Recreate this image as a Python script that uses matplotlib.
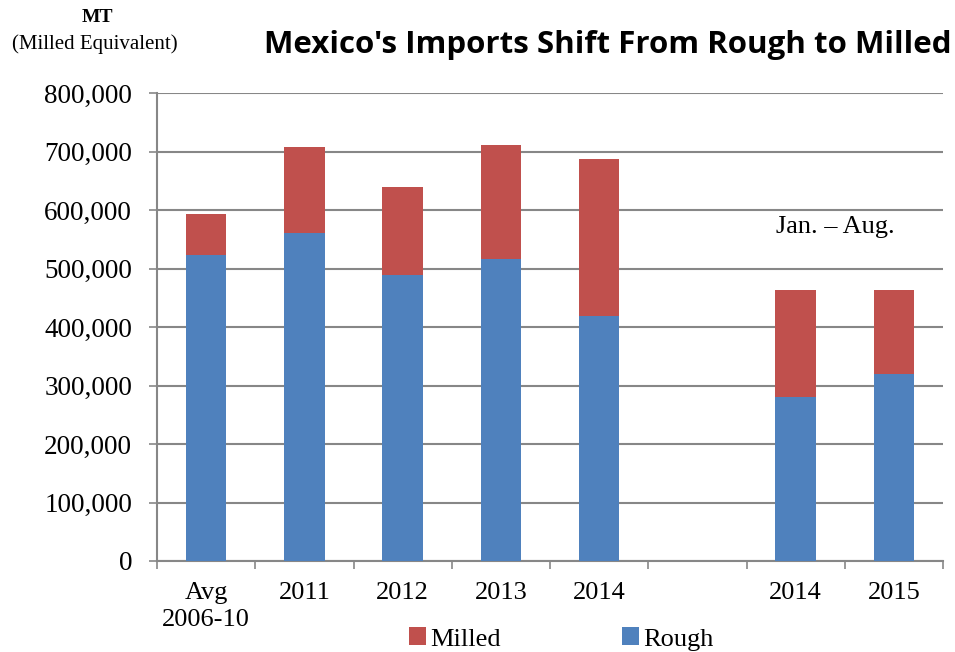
import matplotlib
matplotlib.use("Agg")
import matplotlib.pyplot as plt
import numpy as np
from matplotlib.ticker import FuncFormatter, FixedLocator

categories = ["Avg\n2006-10", "2011", "2012", "2013", "2014", "", "2014", "2015"]
rough = [523000, 560000, 489000, 517000, 419000, 0, 281000, 319000]
milled = [71000, 147000, 151000, 194000, 268000, 0, 183000, 144000]

yticks = [0, 100000, 200000, 300000, 400000, 500000, 600000, 700000, 800000]

BLUE = "#4F81BD"
RED = "#C0504D"
GRID = "#878787"

fig = plt.figure(figsize=(9.55, 6.52), dpi=100)
ax = fig.add_axes([157/955, 1 - 561/652, (943-157)/955, (561-93)/652])

x = np.arange(len(categories))
w = 0.41
ax.bar(x, rough, w, color=BLUE, label="Rough", zorder=3)
ax.bar(x, milled, w, bottom=rough, color=RED, label="Milled", zorder=3)

ax.set_xlim(-0.5, len(categories) - 0.5)
ax.set_ylim(0, 800000)
ax.set_yticks(yticks)
ax.yaxis.set_major_formatter(FuncFormatter(lambda v, p: f"{int(v):,}"))
ax.grid(axis="y", color=GRID, linewidth=1.5, zorder=0)
ax.set_axisbelow(True)

ax.set_xticks(x)
ax.set_xticklabels(categories, fontfamily="Liberation Serif", fontsize=19, linespacing=1.3)
ax.xaxis.set_minor_locator(FixedLocator(np.arange(-0.5, len(categories), 1.0)))
ax.tick_params(axis="x", which="major", length=0, pad=15)
ax.tick_params(axis="x", which="minor", length=6, color=GRID, width=1.2)
ax.tick_params(axis="y", length=6, color=GRID, width=1.2, pad=12)
for lab in ax.get_yticklabels():
    lab.set_fontfamily("Liberation Serif")
    lab.set_fontsize(19.5)

for s in ["top", "right"]:
    ax.spines[s].set_visible(False)
ax.spines["left"].set_color(GRID)
ax.spines["left"].set_linewidth(1.5)
ax.spines["bottom"].set_color(GRID)
ax.spines["bottom"].set_linewidth(1.5)

fig.text(608/955, 1 - 45/652, "Mexico's Imports Shift From Rough to Milled",
         fontfamily="Open Sans", fontweight="bold", fontsize=22.5, ha="center", va="center")
fig.text(97/955, 1 - 18/652, "MT", fontfamily="Liberation Serif", fontweight="bold",
         fontsize=14, ha="center", va="center")
fig.text(95/955, 1 - 44/652, "(Milled Equivalent)", fontfamily="Liberation Serif",
         fontsize=15, ha="center", va="center")
ax.text(835/955, 1 - 227/652, "Jan. \u2013 Aug.", transform=fig.transFigure,
        fontfamily="Liberation Serif", fontsize=19, ha="center", va="center")

handles, labels = ax.get_legend_handles_labels()
leg = fig.legend(handles[::-1], labels[::-1], loc="center", bbox_to_anchor=(561/955, 1 - 639/652),
                 ncol=2, frameon=False, prop={"family": "Liberation Serif", "size": 19},
                 handlelength=0.65, handleheight=0.65, handletextpad=0.15, columnspacing=4.6,
                 borderpad=0)

fig.savefig("out.png", dpi=100)
